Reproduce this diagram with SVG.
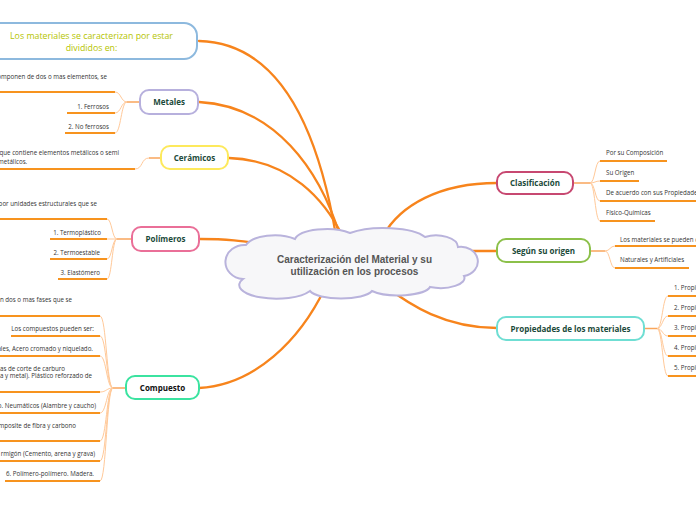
<svg xmlns="http://www.w3.org/2000/svg" width="696" height="520" viewBox="0 0 696 520">
<style>
.main{fill:none;stroke:#f7841c;stroke-width:2.3;stroke-linecap:round}
.br{fill:none;stroke:#ffc999;stroke-width:1}
.stem{fill:none;stroke:#f9a55b;stroke-width:1.5}
.ul{fill:none;stroke:#f7931e;stroke-width:1.8}
.node{fill:#fff;stroke-width:2}
.lbl{font-family:"Open Sans",sans-serif;font-weight:bold;font-size:8px;fill:#1b4a3a;text-anchor:middle}
.t{font-family:"Open Sans",sans-serif;font-size:6.2px;fill:#333}
.e{text-anchor:end}
</style>
<rect width="696" height="520" fill="#fff"/>
<g id="connectors">
<path class="main" d="M199,41 C285,43 320,140 336,236"/>
<path class="main" d="M199,102 C275,106 320,170 340,236"/>
<path class="main" d="M229,158 C290,160 325,200 343,237"/>
<path class="main" d="M200,239 C228,239 242,241 262,244"/>
<path class="main" d="M199,388 C255,385 300,340 325,288"/>
<path class="main" d="M497,183 C440,183 400,205 383,236"/>
<path class="main" d="M465,251 L497,251"/>
<path class="main" d="M497,328 C445,328 410,305 385,286"/>
<path class="br" d="M115,92 C121,92 121,102 127,102 M115,113 C121,113 121,102 127,102 M115,133 C121,133 121,102 127,102"/>
<path class="stem" d="M127,102 L140,102"/>
<path class="br" d="M135,169 C143,169 141,158 149,158"/>
<path class="stem" d="M149,158 L161,158"/>
<path class="br" d="M107,219 C112,219 112,239 117,239 M107,239 L117,239 M107,259 C112,259 112,239 117,239 M107,279 C112,279 112,239 117,239"/>
<path class="stem" d="M117,239 L132,239"/>
<path class="br" d="M100,316 C106.5,316 106.5,388 113,388 M100,336 C106.5,336 106.5,388 113,388 M100,356 C106.5,356 106.5,388 113,388 M100,392 C106.5,392 106.5,388 113,388 M100,413 C106.5,413 106.5,388 113,388 M100,441 C106.5,441 106.5,388 113,388 M100,461 C106.5,461 106.5,388 113,388 M100,481 C106.5,481 106.5,388 113,388"/>
<path class="stem" d="M113,388 L126,388"/>
<path class="br" d="M600,161 C595,161 595,183 590,183 M600,181 C595,181 595,183 590,183 M600,201 C595,201 595,183 590,183 M600,221 C595,221 595,183 590,183"/>
<path class="stem" d="M573,183 L590,183"/>
<path class="br" d="M615,246 C610,246 610,251 605,251 M615,268 C610,268 610,251 605,251"/>
<path class="stem" d="M590,251 L605,251"/>
<path class="br" d="M668,296 C662.5,296 662.5,328.5 657,328.5 M668,316 C662.5,316 662.5,328.5 657,328.5 M668,336 C662.5,336 662.5,328.5 657,328.5 M668,356 C662.5,356 662.5,328.5 657,328.5 M668,376 C662.5,376 662.5,328.5 657,328.5"/>
<path class="stem" d="M644,328.5 L657,328.5"/>
</g>
<g id="center">
<path d="M243,279 A19,17 0 0 1 246,245 A30,14 0 0 1 295,239 A32,12 0 0 1 350,233 A44,14 0 0 1 425,237 A22,12 0 0 1 458,247 A16,14 0 0 1 464,276 A24,10 0 0 1 430,287 A32,10 0 0 1 372,291 A32,10 0 0 1 310,291 A30,11 0 0 1 243,279 Z" fill="#f7f7f9" stroke="#b9b3dc" stroke-width="2"/>
<text x="354.5" y="263" font-family="Liberation Sans, Arial, sans-serif" font-weight="bold" font-size="10" fill="#555" text-anchor="middle">Caracterización del Material y su</text>
<text x="354.5" y="275" font-family="Liberation Sans, Arial, sans-serif" font-weight="bold" font-size="10" fill="#555" text-anchor="middle">utilización en los procesos</text>
</g>
<g id="top-node">
<rect class="node" x="-20" y="23" width="217" height="36" rx="13" stroke="#8db9de"/>
<text x="91.5" y="38.5" font-family="Open Sans, sans-serif" font-size="8.8" fill="#b5c400" text-anchor="middle">Los materiales se caracterizan por estar</text>
<text x="91.5" y="50.5" font-family="Open Sans, sans-serif" font-size="8.8" fill="#b5c400" text-anchor="middle">divididos en:</text>
</g>
<g id="metales">
<rect class="node" x="140" y="90" width="58" height="24" rx="9" stroke="#b7b0dd"/>
<text class="lbl" x="169" y="105">Metales</text>
</g>
<g id="metales-children">
<path class="ul" d="M0,92 H115 M67,113 H115 M65,133 H115"/>
<text class="t e" x="107" y="79">componen de dos o mas elementos, se</text>
<text class="t e" x="109" y="108.5">1. Ferrosos</text>
<text class="t e" x="109" y="128.5">2. No ferrosos</text>
</g>
<g id="ceramicos">
<rect class="node" x="161" y="146" width="67" height="23" rx="9" stroke="#fde95c"/>
<text class="lbl" x="194.5" y="160.5">Cerámicos</text>
</g>
<g id="ceramicos-children">
<path class="ul" d="M0,169 H135"/>
<text class="t e" x="119" y="155">o que contiene elementos metálicos o semi</text>
<text class="t" x="-2" y="164">metálicos.</text>
</g>
<g id="polimeros">
<rect class="node" x="132" y="227" width="67" height="24" rx="9" stroke="#ea6f98"/>
<text class="lbl" x="165.5" y="242">Polímeros</text>
</g>
<g id="polimeros-children">
<path class="ul" d="M0,219 H107 M50,239 H107 M50,259 H107 M58,279 H107"/>
<text class="t e" x="97" y="206">por unidades estructurales que se</text>
<text class="t e" x="101" y="235">1. Termoplástico</text>
<text class="t e" x="100" y="255">2. Termoestable</text>
<text class="t e" x="100" y="275">3. Elastómero</text>
</g>
<g id="compuesto">
<rect class="node" x="126" y="376" width="73" height="23" rx="9" stroke="#3be3a0"/>
<text class="lbl" x="162.5" y="391" style="fill:#111">Compuesto</text>
</g>
<g id="compuesto-children">
<path class="ul" d="M0,316 H100 M11,336 H100 M0,356 H100 M0,392 H100 M0,413 H100 M0,441 H100 M0,461 H100 M5,481 H100"/>
<text class="t e" x="72" y="302">en dos o mas fases que se</text>
<text class="t e" x="94" y="330.5">Los compuestos pueden ser:</text>
<text class="t e" x="93" y="351">ales, Acero cromado y niquelado.</text>
<text class="t e" x="65" y="370.5">tas de corte de carburo</text>
<text class="t e" x="92" y="378">ca y metal). Plástico reforzado de</text>
<text class="t e" x="96" y="408">o. Neumáticos (Alambre y caucho)</text>
<text class="t e" x="76" y="428">mposite de fibra y carbono</text>
<text class="t e" x="95" y="456">rmigón (Cemento, arena y grava)</text>
<text class="t e" x="94" y="476">6. Polímero-polímero. Madera.</text>
</g>
<g id="clasificacion">
<rect class="node" x="497" y="172" width="76" height="22" rx="9" stroke="#c74871"/>
<text class="lbl" x="535" y="186">Clasificación</text>
</g>
<g id="clasificacion-children">
<path class="ul" d="M600,161 H667 M600,181 H639 M600,201 H696 M600,221 H655"/>
<text class="t" x="606" y="155">Por su Composición</text>
<text class="t" x="606" y="175">Su Origen</text>
<text class="t" x="606" y="195">De acuerdo con sus Propiedades</text>
<text class="t" x="606" y="215">Físico-Químicas</text>
</g>
<g id="segun">
<rect class="node" x="497" y="239" width="93" height="23" rx="9" stroke="#8cc04a"/>
<text class="lbl" x="543.5" y="254">Según su origen</text>
</g>
<g id="segun-children">
<path class="ul" d="M615,246 H696 M615,268 H689"/>
<text class="t" x="620" y="241.5">Los materiales se pueden c</text>
<text class="t" x="620" y="261.5">Naturales y Artificiales</text>
</g>
<g id="propiedades">
<rect class="node" x="497" y="317" width="147" height="23" rx="9" stroke="#6fded3"/>
<text class="lbl" x="570.5" y="331.5">Propiedades de los materiales</text>
</g>
<g id="propiedades-children">
<path class="ul" d="M668,296 H696 M668,316 H696 M668,336 H696 M668,356 H696 M668,376 H696"/>
<text class="t" x="674" y="290">1. Propie</text>
<text class="t" x="674" y="310">2. Propie</text>
<text class="t" x="674" y="330">3. Propie</text>
<text class="t" x="674" y="350">4. Propie</text>
<text class="t" x="674" y="370">5. Propie</text>
</g>
</svg>
